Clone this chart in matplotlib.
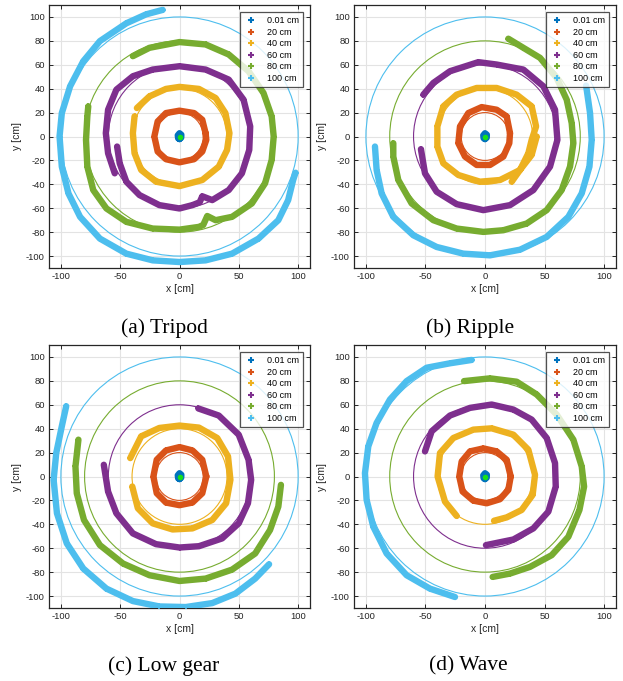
import matplotlib.pyplot as plt
from matplotlib.patches import Circle
from matplotlib.lines import Line2D
import numpy as np

plt.rcParams['font.family'] = ['Liberation Sans', 'DejaVu Sans']
plt.rcParams['axes.unicode_minus'] = False

# ===== Data (cm) =====
labels = ['0.01 cm', '20 cm', '40 cm', '60 cm', '80 cm', '100 cm']
radii = [0.01, 20, 40, 60, 80, 100]
colors = ['#0072BD', '#D95319', '#EDB120', '#7E2F8E', '#77AC30', '#4DBEEE']
titles = ['(a) Tripod', '(b) Ripple', '(c) Low gear', '(d) Wave']

target_x = [0]
target_y = [0]
blob_x = [0, 1.5, 1.6, 0, -1.5, -1.2, 0]
blob_y = [-2.2, -1, 1.5, 2.8, 1, -1.5, -2.2]

# --- (a) Tripod ---
tripod_20 = [(22, 2.8), (19.2, 14), (12.3, 19.6), (0, 21.6), (-11.4, 19.6), (-18.4, 12.6),
             (-21.2, 0), (-18.4, -12.6), (-11.4, -19), (0, -21.6), (12.3, -19), (19.2, -12.6),
             (22.6, -2.8), (22, 2.8)]
tripod_40 = [(-35.9, 23.8), (-25.3, 33.6), (-11.4, 39.8), (0, 41.5), (16.4, 39.8), (30.4, 32.2),
             (38.7, 19.6), (42.1, 2.8), (40.1, -11.2), (33.1, -25.2), (19.2, -36.4), (0, -41.5),
             (-19.8, -37.8), (-32.3, -28), (-37.9, -14), (-39.3, 2.8), (-37.9, 16.8)]
tripod_60 = [(-54.6, -30.8), (-60.2, -14), (-62.1, 2.8), (-60.2, 22.4), (-53.2, 39.2), (-39.3, 50.4),
             (-22.6, 56), (0, 58.8), (22, 56), (41.5, 47.6), (54, 30.8), (59.6, 8.4), (58.8, -11.2),
             (52.6, -30.8), (41.5, -44.8), (27.6, -53.2), (19.2, -50), (17, -55), (10.9, -57.4),
             (0, -60.2), (-17, -57.4), (-33.7, -49), (-44.8, -37.8), (-50.4, -22.4), (-52.6, -8.4)]
tripod_80 = [(-39.3, 67.2), (-25.3, 74.2), (0, 79), (22, 77), (41.5, 68.6), (58.2, 54.6),
             (70.8, 36.4), (77.7, 16.8), (79.4, 0), (77.7, -19.6), (72.1, -39.2), (61, -56),
             (44.3, -67.2), (30.4, -70), (23.4, -66.5), (20, -74), (16.4, -75.6), (0, -77.9),
             (-22.6, -77), (-44.8, -71.4), (-61.6, -60.2), (-72.7, -44.8), (-77.7, -25.2),
             (-78.8, -2.8), (-77.7, 16.8), (-76.9, 25.2)]
tripod_100 = [(-14.2, 105.9), (-28.1, 102.2), (-44.8, 94.7), (-67.1, 79.8), (-81.1, 63), (-92.2, 42),
              (-99.2, 19.6), (-101.1, 0), (-99.2, -25.2), (-93.6, -47.6), (-83.8, -67.2),
              (-67.1, -85.4), (-44.8, -98), (-22.6, -103.6), (0, -105), (22, -103.6), (44.3, -98),
              (66.6, -85.4), (83.3, -70), (91.6, -53.2), (95.8, -36.4), (97.8, -30.3)]

# --- (b) Ripple ---
ripple_20 = [(21, 2.8), (18.2, 16.8), (9.8, 22.4), (-2.8, 24.6), (-14, 19.6), (-21, 8.4),
             (-22.4, -5.6), (-16.8, -16.8), (-7, -23.8), (4.2, -23.8), (15.4, -16.8), (20.4, -5.6),
             (21, 2.8)]
ripple_40 = [(22.4, -37.8), (29.4, -28), (36.4, -14), (39.2, -2.8), (42.9, 8.4), (39.2, 25.2),
             (26.6, 35), (9.8, 40.6), (-7, 40.6), (-23.8, 35), (-35, 25.2), (-40, 8.4), (-40, -8.4),
             (-35, -22.4), (-22.4, -32.2), (-4.2, -37.8), (12.6, -36.4), (29.4, -28),
             (39.2, -15.4), (43.4, 0)]
ripple_60 = [(-53.8, -10.6), (-50.4, -30.8), (-40.6, -46.2), (-23.8, -56.6), (-1.4, -61.6),
             (21, -57.4), (40.6, -44.8), (54.6, -25.2), (60.8, -2.8), (58.8, 22.4), (49, 42),
             (32.2, 56), (9.8, 60.2), (-5.6, 62.2), (-29.4, 54.6), (-43.4, 44.8), (-51.8, 35)]
ripple_80 = [(19.6, 81.8), (32.2, 74.2), (46.2, 65.8), (60.2, 49), (68.6, 30.8), (72.8, 11.2),
             (74.2, -5.6), (71.4, -25.2), (64.4, -44.8), (51.8, -61.6), (35, -72.8), (15.4, -78.4),
             (-1.4, -79.8), (-23.8, -77), (-43.4, -70), (-61.6, -56), (-72.8, -36.4),
             (-77, -16.8), (-77, -5.6)]
ripple_100 = [(84.9, 42.6), (88.2, 19.6), (89.6, -2.8), (87.7, -25.2), (81.2, -47.6), (70, -67.2),
              (51.8, -84), (29.4, -94.7), (4.2, -99.4), (-18.2, -98), (-40.6, -92.4),
              (-60.2, -82.6), (-77, -67.2), (-86.8, -47.6), (-91, -28), (-92.4, -8.4)]

# --- (c) Low gear ---
lowgear_20 = [(22.6, 0), (19.2, 14), (10.9, 21.8), (0, 24.6), (-11.4, 21.8), (-19.2, 14), (-22, 0),
              (-19.2, -14), (-11.4, -21.8), (0, -24), (10.9, -21.8), (19.2, -14), (22.6, 0)]
lowgear_40 = [(-41.5, 15.4), (-32.3, 33.6), (-17, 40.6), (0, 42.6), (16.4, 40.9), (31.8, 32.2),
              (40.9, 16.8), (42.9, -2.8), (39.3, -22.4), (27.6, -36.4), (10.9, -43.4),
              (-5.8, -44.3), (-22.6, -39.2), (-35.1, -26.6), (-39.8, -8.4)]
lowgear_60 = [(15.9, 56.9), (33.1, 51), (49.9, 35), (58.2, 14), (60.4, -2.8), (57.7, -22.4),
              (49.9, -39.2), (35.9, -51.8), (16.4, -58.3), (0, -59.4), (-19.8, -56.6),
              (-39.3, -47.6), (-53.2, -30.8), (-60.2, -12.6), (-63.8, 9.8)]
lowgear_80 = [(-85.2, 30.8), (-87.7, 8.4), (-86.6, -14), (-80.5, -36.4), (-67.1, -57.4),
              (-47.6, -72.8), (-25.3, -82.6), (0, -87.4), (22, -85.4), (44.3, -77.9),
              (63.8, -64.4), (76.3, -44.8), (83.3, -25.2), (85.5, -7)]
lowgear_100 = [(-95.5, 58.8), (-99.2, 42), (-103.9, 19.6), (-106.1, -2.8), (-103.3, -30.8),
               (-95, -56), (-81.1, -77), (-61.6, -93.8), (-39.3, -104.2), (-17, -108.7),
               (5.3, -109.2), (27.6, -105.9), (47.1, -98), (63.8, -85.4), (75.5, -73.4)]

# --- (d) Wave ---
wave_20 = [(21.6, 0), (18.2, 14), (9.8, 21), (-1.4, 23.5), (-12.6, 21), (-19.6, 12.6), (-21.6, 0),
           (-18.8, -12.6), (-9.8, -20.2), (1.4, -22.4), (12.6, -19), (19.6, -11.2), (21.6, 0)]
wave_40 = [(-23.8, -33), (-33.6, -21), (-39.8, 0), (-37.8, 19.6), (-26.6, 32.2), (-9.8, 39.2),
           (5.6, 40.3), (23.8, 35), (36.4, 22.4), (42, 1.4), (40, -15.4), (30.8, -28),
           (18.2, -34.2), (7.6, -37)]
wave_60 = [(-50.4, 21), (-44.8, 37.8), (-29.4, 51), (-12.6, 57.4), (5.6, 60.2), (23.8, 56),
           (39.2, 47.6), (51.8, 32.2), (58.8, 11.2), (59.4, -8.4), (53.2, -29.4), (40.6, -43.4),
           (23.8, -52.7), (0.8, -57.4)]
wave_80 = [(-17.6, 79.8), (4.2, 82.1), (26.6, 79.3), (43.4, 68.6), (60.2, 51.8), (74.2, 30.8),
           (81.2, 8.4), (83.2, -8.4), (79.3, -28), (70, -50.4), (56, -65.8), (37.8, -75.6),
           (21, -81.2), (6.4, -84)]
wave_100 = [(-11.2, 97.5), (-29.4, 94.7), (-49, 91), (-65.8, 79.8), (-79.8, 64.4), (-91, 44.8),
            (-98, 25.2), (-100.8, 2.8), (-99.4, -19.6), (-93.8, -42), (-82.6, -64.4),
            (-65.8, -82.6), (-46.2, -93.8), (-25.2, -100.8)]

tracks = [
    [tripod_20, tripod_40, tripod_60, tripod_80, tripod_100],
    [ripple_20, ripple_40, ripple_60, ripple_80, ripple_100],
    [lowgear_20, lowgear_40, lowgear_60, lowgear_80, lowgear_100],
    [wave_20, wave_40, wave_60, wave_80, wave_100],
]

# ===== Figure =====
fig = plt.figure(figsize=(6.23, 6.81), dpi=100)
W, H = 623, 681
# axes boxes in pixels: left, top, right, bottom
boxes = [(49, 5, 310, 268), (354, 5, 616, 268), (49, 345, 310, 608), (354, 345, 616, 608)]
caption_pos = [(164, 328), (470, 328), (164, 666), (468, 666)]

for k, (l, t, r, b) in enumerate(boxes):
    ax = fig.add_axes([l / W, 1 - b / H, (r - l) / W, (b - t) / H])

    # reference circles
    for rad, col in zip(radii, colors):
        ax.add_patch(Circle((0, 0), rad, fill=False, edgecolor=col, lw=0.8, zorder=2))

    # measured trajectories
    ax.plot(blob_x, blob_y, color=colors[0], lw=4.5, solid_capstyle='round', zorder=3)
    for pts, col in zip(tracks[k], colors[1:]):
        xs, ys = zip(*pts)
        ax.plot(xs, ys, color=col, lw=4.6, solid_capstyle='round',
                solid_joinstyle='round', zorder=3)
        ax.plot(xs, ys, ls='none', marker='+', ms=4, mew=1.2, color=col, zorder=3)
    ax.plot(target_x, target_y, 'o', ms=4, color='#16e01a', mec='none', zorder=4)

    ax.set_xlim(-110, 110)
    ax.set_ylim(-110, 110)
    ax.set_xticks([-100, -50, 0, 50, 100])
    ax.set_yticks(np.arange(-100, 101, 20))
    ax.grid(True, color='#e3e3e3', lw=0.8)
    ax.set_axisbelow(True)
    ax.tick_params(direction='in', top=True, right=True, labelsize=6.8,
                   length=3, width=0.7, colors='#262626', pad=3)
    for sp in ax.spines.values():
        sp.set_linewidth(0.9)
        sp.set_color('#262626')
    ax.set_xlabel('x [cm]', fontsize=7.5, color='#262626', labelpad=2)
    ax.set_ylabel('y [cm]', fontsize=7.5, color='#262626', labelpad=3)

    handles = [Line2D([], [], ls='none', marker='+', ms=5, mew=1.5, color=c) for c in colors]
    leg = ax.legend(handles, labels, loc='upper right', fontsize=6.5, frameon=True,
                    fancybox=False, borderaxespad=0.8, handlelength=1.6, handletextpad=0.9,
                    labelspacing=0.28, borderpad=0.45)
    leg.get_frame().set_edgecolor('#262626')
    leg.get_frame().set_linewidth(0.9)
    leg.set_zorder(10)

    cx, cy = caption_pos[k]
    fig.text(cx / W, 1 - cy / H, titles[k], ha='center', va='center',
             fontsize=15.5, family='Liberation Serif')

fig.savefig('out.png', dpi=100, facecolor='white')
